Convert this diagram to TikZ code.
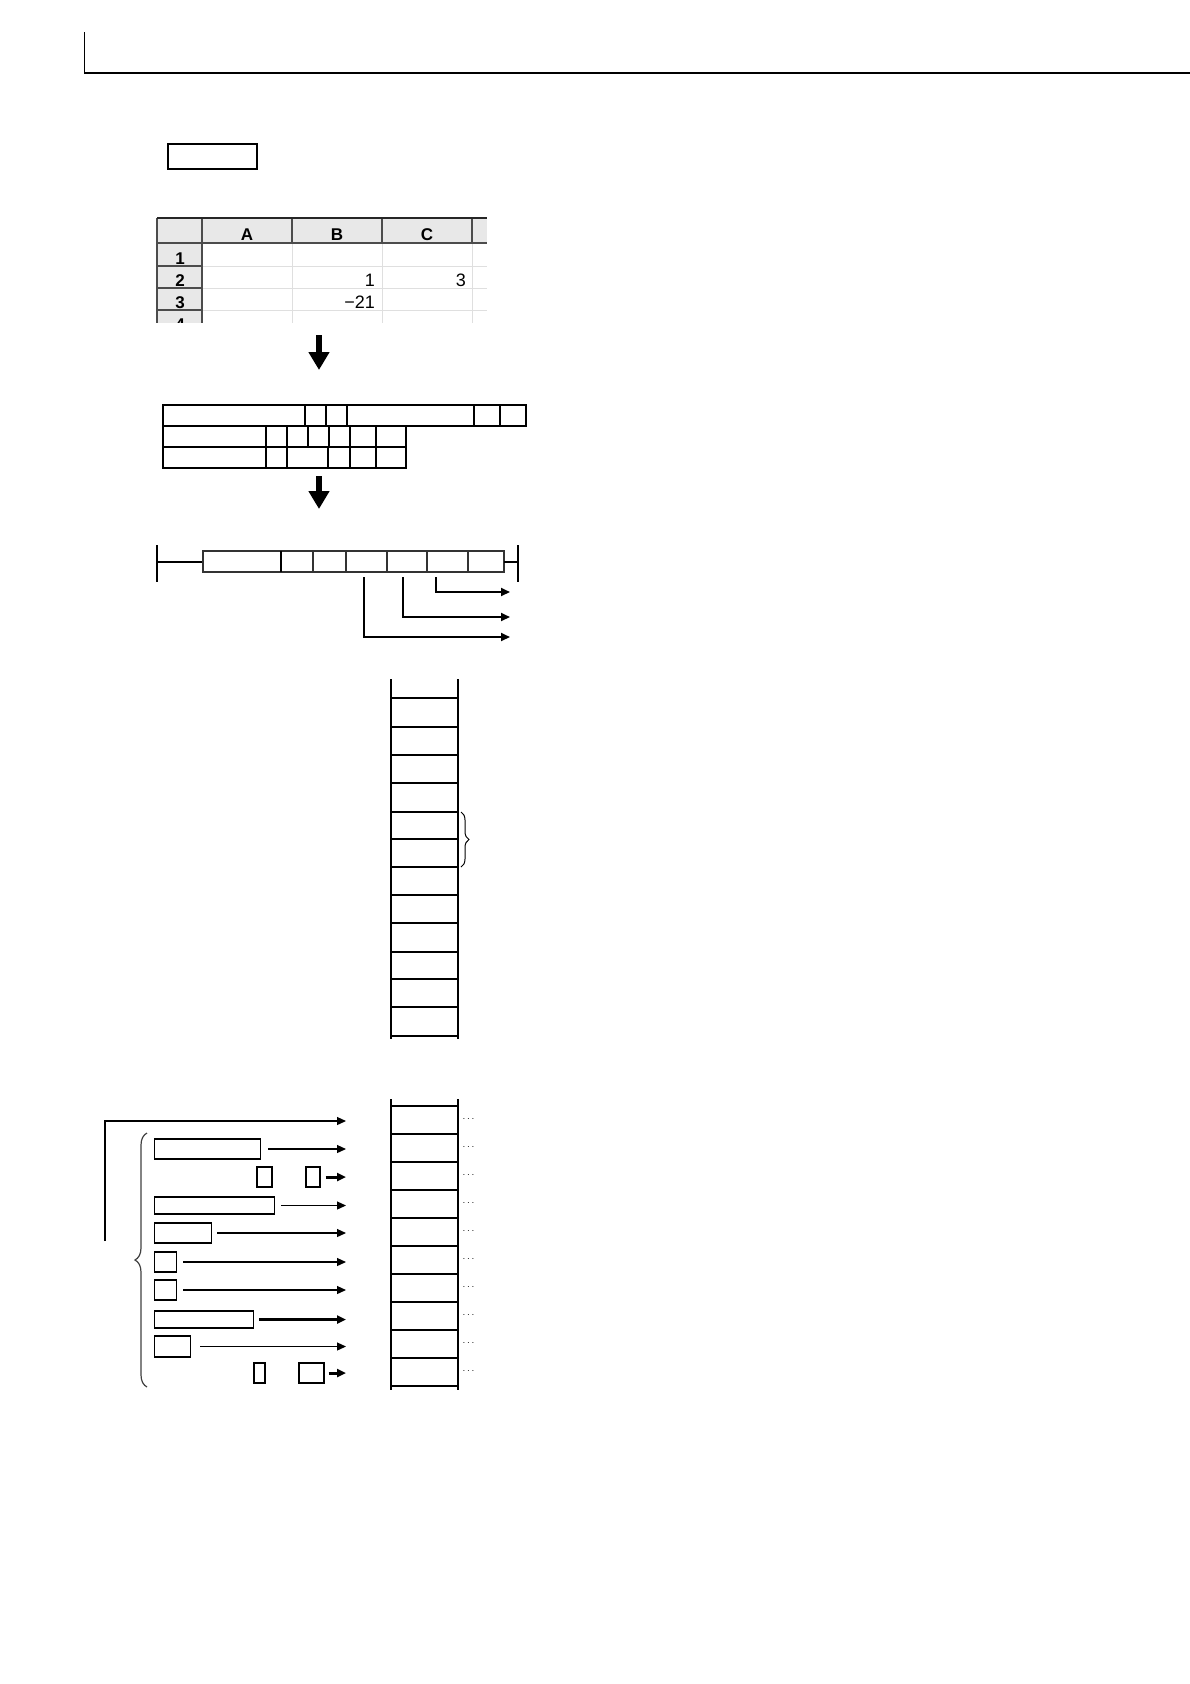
\documentclass[tikz,border=0pt]{standalone}
\usepackage{fontspec}
\newfontfamily\sheetfont{Liberation Sans}
\usetikzlibrary{arrows.meta,decorations.pathreplacing,positioning}

\tikzset{
  cellbox/.style={draw, line width=1.4pt},
  fld/.style={draw, line width=1.4pt, inner sep=0pt, anchor=west},
  tip/.style={-{Triangle[length=9pt,width=8pt]}},
  fatarrow/.style={line width=6pt, -{Triangle[length=18pt,width=20pt]}},
  hdr/.style={font=\sheetfont\bfseries\fontsize{17}{17}\selectfont, anchor=base, inner sep=0pt},
  rowlbl/.style={font=\sheetfont\bfseries\fontsize{17}{17}\selectfont, anchor=base, inner sep=0pt},
  val/.style={font=\sheetfont\fontsize{18}{18}\selectfont, anchor=base east, inner sep=0pt},
}

\begin{document}
\begin{tikzpicture}[x=1pt,y=-1pt]
\useasboundingbox (0,0) rectangle (1190,1684);

% page rule
\draw[line width=1pt] (84,32) -- (84,73);
\draw[line width=1.6pt] (84,73) -- (1190,73);
\node[draw, line width=2.4pt, minimum width=89pt, minimum height=25pt, inner sep=0pt] (title) at (212.5,156.5) {};

% spreadsheet
\begin{scope}
  \clip (156,212) rectangle (487,322);
  \fill[gray!18] (157,218) rectangle (487,243);
  \fill[gray!18] (157,243) rectangle (202,334);
  \foreach \y in {266,288,310} \draw[gray!25] (202,\y) -- (487,\y);
  \foreach \x in {292,382,472} \draw[gray!25] (\x,243) -- (\x,334);
  \foreach \x in {202,292,382,472} \draw[black!70, line width=1.2pt] (\x,218) -- (\x,243);
  \draw[black!70, line width=1.2pt] (157,243) -- (487,243);
  \foreach \y in {266,288,310} \draw[black!70, line width=1.2pt] (157,\y) -- (202,\y);
  \draw[black!70, line width=1.2pt] (202,243) -- (202,334);
  \draw[black!70, line width=1.2pt] (157,218) -- (157,334);
  \draw[black!85, line width=2.5pt] (157,218) -- (487,218);
  \node[hdr] (colA) at (247,240) {A};
  \node[hdr] (colB) at (337,240) {B};
  \node[hdr] (colC) at (427,240) {C};
  \node[rowlbl] (row1) at (180,264) {1};
  \node[rowlbl] (row2) at (180,286) {2};
  \node[rowlbl] (row3) at (180,308) {3};
  \node[rowlbl] (row4) at (180,330) {4};
  \node[val] (b2) at (375,286) {1};
  \node[val] (c2) at (466,286) {3};
  \node[val] (b3) at (375,308) {−21};
\end{scope}

\coordinate (a1s) at (319,335);
\coordinate (a1e) at (319,370);
\draw[fatarrow] (a1s) -- (a1e);

% records
\foreach \xa/\xb in {163/305,305/326,326/347,347/474,474/500,500/526}
  \draw[cellbox] (\xa,405) rectangle (\xb,426);
\foreach \xa/\xb in {163/266,266/287,287/308,308/329,329/350,350/376,376/406}
  \draw[cellbox] (\xa,426) rectangle (\xb,447);
\foreach \xa/\xb in {163/266,266/287,287/328,328/350,350/376,376/406}
  \draw[cellbox] (\xa,447) rectangle (\xb,468);

\coordinate (a2s) at (319,476);
\coordinate (a2e) at (319,509);
\draw[fatarrow] (a2s) -- (a2e);

% line with fields
\draw[line width=2pt] (157,545) -- (157,582);
\draw[line width=2pt] (157,562) -- (203,562);
\foreach \xa/\xb in {203/281,281/313,313/346,346/387,387/427,427/468,468/504}
  \draw[line width=1.2pt, black!80] (\xa,551) rectangle (\xb,572);
\draw[line width=2pt] (281,551) -- (281,572);
\draw[line width=2pt] (504,562) -- (518,562);
\draw[line width=2pt] (518,545) -- (518,582);

\coordinate (t1) at (436,577);
\coordinate (t2) at (403,577);
\coordinate (t3) at (364,577);
\coordinate (o1) at (510,592);
\coordinate (o2) at (510,617);
\coordinate (o3) at (510,637);
\draw[tip, line width=2pt] (t1) |- (o1);
\draw[tip, line width=2pt] (t2) |- (o2);
\draw[tip, line width=2pt] (t3) |- (o3);

% memory ladder
\draw[line width=2.4pt] (391,679) -- (391,1039);
\draw[line width=1.2pt] (458,679) -- (458,1039);
\foreach \y in {698,812,839,867,895,923,952,979,1007,1036}
  \draw[line width=1.3pt] (391,\y) -- (458,\y);
\foreach \y in {727,755,783}
  \draw[line width=2.8pt] (391,\y) -- (458,\y);
\draw[line width=1pt, decorate, decoration={brace, amplitude=8pt}] (461,812) -- (461,867);

% second ladder
\draw[line width=2.4pt] (391,1099) -- (391,1390);
\draw[line width=1.2pt] (458,1099) -- (458,1390);
\foreach \k in {0,...,10}
  \draw[line width=1.4pt] (391,1106+28*\k) -- (458,1106+28*\k);
\foreach \k in {0,...,9}
  \node[font=\fontsize{10}{10}\selectfont, inner sep=0pt] (d\k) at (468.5,1119+28*\k) {$\cdots$};

\coordinate (inx) at (346,0);
\coordinate (lft) at (105,1241);
\coordinate (e0) at (346,1121);
\draw[tip, line width=1.2pt] (lft) |- (e0);

\node[fld, minimum width=106pt, minimum height=20pt] (f1) at (154,1149) {};
\node[draw, line width=1.4pt, inner sep=0pt, minimum width=15pt, minimum height=20pt] (f2a) at (264.5,1177) {};
\node[draw, line width=1.4pt, inner sep=0pt, minimum width=14pt, minimum height=20pt] (f2b) at (313,1177) {};
\node[fld, minimum width=120pt, minimum height=17pt] (f3) at (154,1205.5) {};
\node[fld, minimum width=57pt, minimum height=20pt] (f4) at (154,1233) {};
\node[fld, minimum width=22pt, minimum height=20pt] (f5) at (154,1262) {};
\node[fld, minimum width=22pt, minimum height=20pt] (f6) at (154,1290) {};
\node[fld, minimum width=99pt, minimum height=17pt] (f7) at (154,1319.5) {};
\node[fld, minimum width=36pt, minimum height=21pt] (f8) at (154,1346.5) {};
\node[draw, line width=1.4pt, inner sep=0pt, minimum width=11pt, minimum height=20pt] (f9a) at (259.5,1373) {};
\node[draw, line width=1.4pt, inner sep=0pt, minimum width=25pt, minimum height=20pt] (f9b) at (311.5,1373) {};

\draw[tip, line width=1.2pt, shorten <=7pt] (f1.east) -- (f1.east -| inx);
\draw[tip, line width=3pt, shorten <=5pt] (f2b.east) -- (f2b.east -| inx);
\draw[tip, line width=1.2pt, shorten <=6pt] (f3.east) -- (f3.east -| inx);
\draw[tip, line width=1.2pt, shorten <=5pt] (f4.east) -- (f4.east -| inx);
\draw[tip, line width=1.2pt, shorten <=6pt] (f5.east) -- (f5.east -| inx);
\draw[tip, line width=1.2pt, shorten <=6pt] (f6.east) -- (f6.east -| inx);
\draw[tip, line width=2.4pt, shorten <=5pt] (f7.east) -- (f7.east -| inx);
\draw[tip, line width=1.2pt, shorten <=9pt] (f8.east) -- (f8.east -| inx);
\draw[tip, line width=3pt, shorten <=4pt] (f9b.east) -- (f9b.east -| inx);

\draw[line width=1.2pt, black!75, decorate, decoration={brace, amplitude=12pt}] (147,1387) -- (147,1133);
\end{tikzpicture}
\end{document}
